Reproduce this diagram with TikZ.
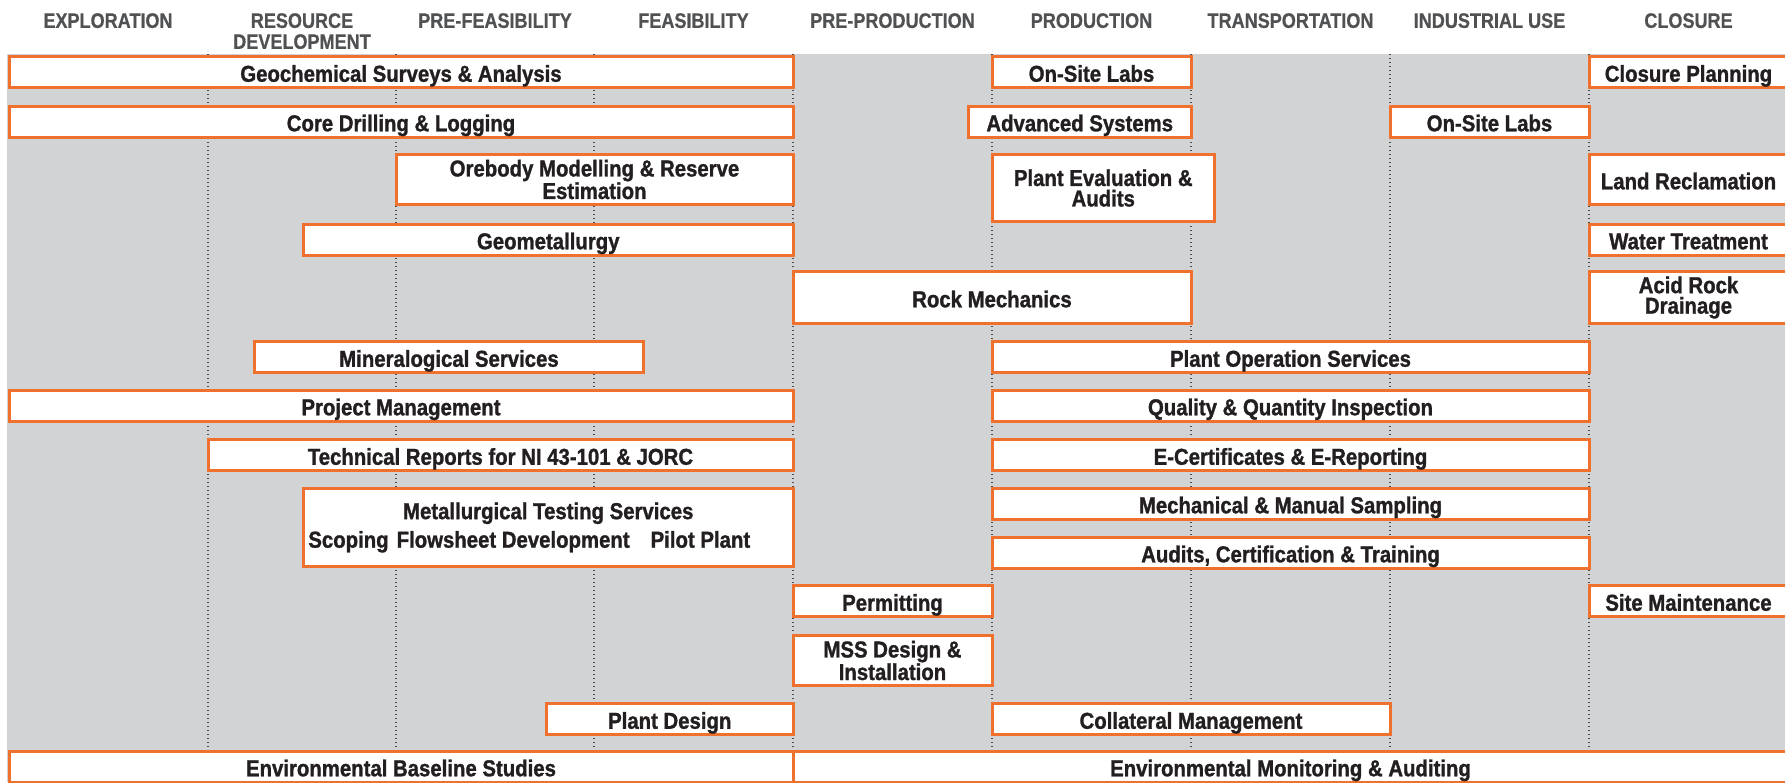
\documentclass[tikz,border=0pt]{standalone}
\usepackage{fontspec}
\usepackage{tikz}
\usetikzlibrary{backgrounds}
\usetikzlibrary{arrows,shapes}
\usetikzlibrary{calc}

\newfontfamily\phasefont{Liberation Sans}[FakeStretch=0.86, FakeBold=0.6]
\newfontfamily\servicefont{Liberation Sans}[FakeStretch=0.885, FakeBold=1.2]
\definecolor{boxorange}{RGB}{240,112,45}
\definecolor{lanegray}{RGB}{209,211,212}
\definecolor{phasegray}{RGB}{80,81,83}
\definecolor{ink}{RGB}{35,31,32}

\begin{document}
\begin{tikzpicture}[
    x=1pt, y=-1pt,
    service_box/.style={rectangle, draw=boxorange, fill=white, line width=3pt, inner sep=0pt, align=center, text=ink, font=\servicefont\bfseries\fontsize{23}{20.5}\selectfont, text height=19.5pt, text depth=0pt},
    tall_box/.style={service_box, text height={}, text depth={}},
    phase_label/.style={anchor=north, inner sep=0pt, align=center, text=phasegray, font=\phasefont\bfseries\fontsize{21}{21}\selectfont},
    phase_divider/.style={draw=black!70, line width=1.4pt, dash pattern=on 1.4pt off 2.6pt}
]

% 畫布與背景 (Canvas and background)
\useasboundingbox (0,0) rectangle (1785,782);
\fill[lanegray] (7,54) rectangle (1785,782);

% 階段分隔線 (Phase dividers)
\path[phase_divider]
    (208,54) -- (208,782)
    (396,54) -- (396,782)
    (594,54) -- (594,782)
    (793,54) -- (793,782)
    (992,54) -- (992,782)
    (1191,54) -- (1191,782)
    (1390,54) -- (1390,782)
    (1589,54) -- (1589,782);

% 階段標題 (Phase headings)
\node[phase_label] (exploration) at (108,13) {EXPLORATION};
\node[phase_label] (resource) at (302,13) {RESOURCE\\DEVELOPMENT};
\node[phase_label] (prefeas) at (495,13) {PRE-FEASIBILITY};
\node[phase_label] (feas) at (693.5,13) {FEASIBILITY};
\node[phase_label] (preprod) at (892.5,13) {PRE-PRODUCTION};
\node[phase_label] (prod) at (1091.5,13) {PRODUCTION};
\node[phase_label] (transport) at (1290.5,13) {TRANSPORTATION};
\node[phase_label] (industrial) at (1489.5,13) {INDUSTRIAL USE};
\node[phase_label] (closure) at (1688.5,13) {CLOSURE};

% 服務項目 (Service boxes)
\node[service_box, minimum width=784pt, minimum height=31pt] (geochem) at (401,72) {Geochemical Surveys \& Analysis};
\node[service_box, minimum width=199pt, minimum height=31pt] (labs_prod) at (1091.5,72) {On-Site Labs};
\node[service_box, minimum width=199pt, minimum height=31pt] (closure_plan) at (1688.5,72) {Closure Planning};
\node[service_box, minimum width=784pt, minimum height=31pt] (core_drill) at (401,121.5) {Core Drilling \& Logging};
\node[service_box, minimum width=222.5pt, minimum height=31pt] (adv_sys) at (1079.75,121.5) {Advanced Systems};
\node[service_box, minimum width=199pt, minimum height=31pt] (labs_ind) at (1489.5,121.5) {On-Site Labs};
\node[tall_box, minimum width=397pt, minimum height=50pt] (orebody) at (594.5,179.5) {Orebody Modelling \& Reserve\\Estimation};
\node[tall_box, minimum width=222.5pt, minimum height=67pt] (plant_eval) at (1103.25,188) {Plant Evaluation \&\\Audits};
\node[service_box, minimum width=199pt, minimum height=50pt] (land_recl) at (1688.5,179.5) {Land Reclamation};
\node[service_box, minimum width=489.5pt, minimum height=31pt] (geomet) at (548.25,239.5) {Geometallurgy};
\node[service_box, minimum width=199pt, minimum height=31pt] (water) at (1688.5,239.5) {Water Treatment};
\node[service_box, minimum width=398pt, minimum height=52pt] (rock) at (992,297.5) {Rock Mechanics};
\node[tall_box, minimum width=199pt, minimum height=52pt] (acid) at (1688.5,297.5) {Acid Rock\\Drainage};
\node[service_box, minimum width=389pt, minimum height=31pt] (mineral) at (449,357) {Mineralogical Services};
\node[service_box, minimum width=597pt, minimum height=31pt] (plant_ops) at (1290.5,357) {Plant Operation Services};
\node[service_box, minimum width=784pt, minimum height=31pt] (project) at (401,405.5) {Project Management};
\node[service_box, minimum width=597pt, minimum height=31pt] (quality) at (1290.5,405.5) {Quality \& Quantity Inspection};
\node[service_box, minimum width=585pt, minimum height=31pt] (tech_rep) at (500.5,455) {Technical Reports for NI 43-101 \& JORC};
\node[service_box, minimum width=597pt, minimum height=31pt] (e_cert) at (1290.5,455) {E-Certificates \& E-Reporting};
\node[tall_box, minimum width=489.5pt, minimum height=78pt] (metallurgy) at (548.25,527.5) {Metallurgical Testing Services\\[6pt]Scoping\hspace{8pt}Flowsheet Development\hspace{21pt}Pilot Plant\hspace*{38pt}};
\node[service_box, minimum width=597pt, minimum height=31pt] (sampling) at (1290.5,503.5) {Mechanical \& Manual Sampling};
\node[service_box, minimum width=597pt, minimum height=31pt] (audits) at (1290.5,552.5) {Audits, Certification \& Training};
\node[service_box, minimum width=199pt, minimum height=31pt] (permit) at (892.5,601) {Permitting};
\node[service_box, minimum width=199pt, minimum height=31pt] (site_maint) at (1688.5,601) {Site Maintenance};
\node[tall_box, minimum width=199pt, minimum height=50pt] (mss) at (892.5,660.5) {MSS Design \&\\Installation};
\node[service_box, minimum width=246.5pt, minimum height=31pt] (plant_design) at (669.75,719) {Plant Design};
\node[service_box, minimum width=398pt, minimum height=31pt] (collateral) at (1191,719) {Collateral Management};
\node[service_box, minimum width=784pt, minimum height=31pt] (env_base) at (401,766.5) {Environmental Baseline Studies};
\node[service_box, minimum width=995pt, minimum height=31pt] (env_monitor) at (1290.5,766.5) {Environmental Monitoring \& Auditing};

\end{tikzpicture}
\end{document}
